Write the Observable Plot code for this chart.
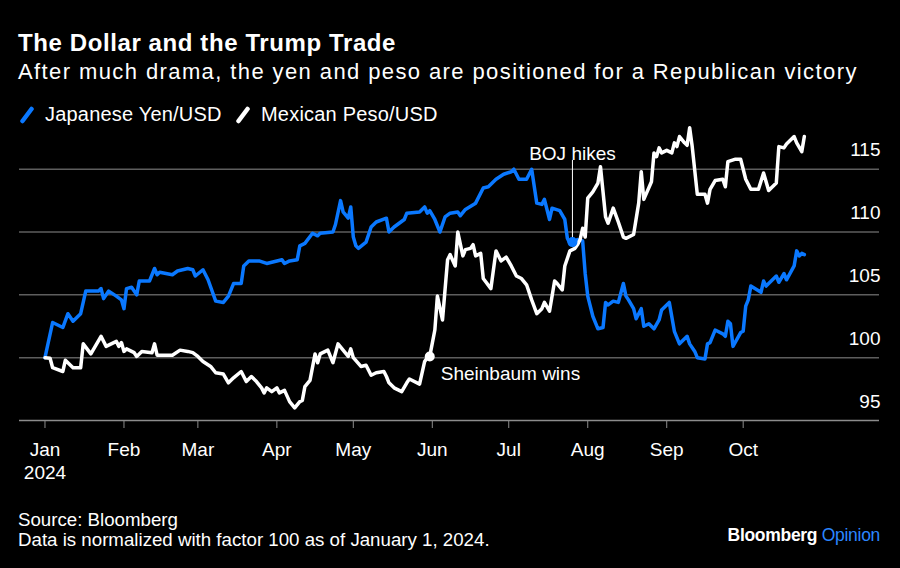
<!DOCTYPE html>
<html><head><meta charset="utf-8">
<script src="https://cdn.jsdelivr.net/npm/d3@7"></script>
<script src="https://cdn.jsdelivr.net/npm/@observablehq/plot@0.6"></script>
<style>
html,body{margin:0;padding:0;background:#000;}
#wrap{position:relative;width:900px;height:568px;background:#000;overflow:hidden;font-family:"Liberation Sans",Arial,sans-serif;color:#fff;}
.abs{position:absolute;white-space:nowrap;line-height:1;}
#title{left:18px;top:31px;font-size:24px;font-weight:bold;letter-spacing:0.6px;}
#subtitle{left:18px;top:61px;font-size:22px;letter-spacing:1.4px;}
.leg{top:104px;font-size:20px;letter-spacing:0.2px;}
.mk{position:absolute;top:106px;}
#src1{left:18px;top:511px;font-size:18.7px;}
#src2{left:18px;top:531px;font-size:18.7px;}
#logo{right:20px;top:527px;font-size:17.5px;font-weight:bold;letter-spacing:-0.3px;}
#chart{position:absolute;left:0;top:118px;}
</style>
</head><body>
<div id="wrap">
  <div id="title" class="abs">The Dollar and the Trump Trade</div>
  <div id="subtitle" class="abs">After much drama, the yen and peso are positioned for a Republican victory</div>
  <svg class="mk" style="left:19px" width="16" height="18"><line x1="3.5" y1="15" x2="12.5" y2="3" stroke="#0a78ff" stroke-width="4.5" stroke-linecap="round"/></svg>
  <div class="abs leg" style="left:45px">Japanese Yen/USD</div>
  <svg class="mk" style="left:235px" width="16" height="18"><line x1="3.5" y1="15" x2="12.5" y2="3" stroke="#ffffff" stroke-width="4.5" stroke-linecap="round"/></svg>
  <div class="abs leg" style="left:261px">Mexican Peso/USD</div>
  <div id="chart"></div>
  <div id="src1" class="abs">Source: Bloomberg</div>
  <div id="src2" class="abs">Data is normalized with factor 100 as of January 1, 2024.</div>
  <div id="logo" class="abs">Bloomberg <span style="color:#2b86ff;font-weight:normal">Opinion</span></div>
</div>
<script>
const BLUE = "#0a78ff";

const yenDates = ["2024-01-01","2024-01-04","2024-01-08","2024-01-10","2024-01-12","2024-01-15","2024-01-17","2024-01-22","2024-01-23","2024-01-24","2024-01-26","2024-01-29","2024-01-31","2024-02-01","2024-02-02","2024-02-04","2024-02-06","2024-02-07","2024-02-11","2024-02-13","2024-02-14","2024-02-15","2024-02-20","2024-02-22","2024-02-26","2024-02-28","2024-02-29","2024-03-03","2024-03-05","2024-03-08","2024-03-11","2024-03-13","2024-03-15","2024-03-18","2024-03-19","2024-03-21","2024-03-25","2024-03-28","2024-04-01","2024-04-03","2024-04-04","2024-04-06","2024-04-09","2024-04-10","2024-04-12","2024-04-15","2024-04-17","2024-04-18","2024-04-23","2024-04-24","2024-04-26","2024-04-27","2024-04-29","2024-04-30","2024-05-01","2024-05-02","2024-05-03","2024-05-06","2024-05-08","2024-05-10","2024-05-14","2024-05-15","2024-05-17","2024-05-21","2024-05-22","2024-05-27","2024-05-29","2024-05-30","2024-05-31","2024-06-02","2024-06-04","2024-06-06","2024-06-08","2024-06-11","2024-06-12","2024-06-14","2024-06-18","2024-06-21","2024-06-23","2024-06-26","2024-06-29","2024-07-02","2024-07-03","2024-07-05","2024-07-08","2024-07-10","2024-07-12","2024-07-14","2024-07-15","2024-07-17","2024-07-18","2024-07-21","2024-07-23","2024-07-24","2024-07-25","2024-07-27","2024-07-28","2024-07-30","2024-07-31","2024-08-01","2024-08-03","2024-08-05","2024-08-07","2024-08-08","2024-08-09","2024-08-11","2024-08-13","2024-08-15","2024-08-16","2024-08-17","2024-08-19","2024-08-20","2024-08-22","2024-08-23","2024-08-25","2024-08-27","2024-08-29","2024-08-30","2024-09-02","2024-09-04","2024-09-06","2024-09-09","2024-09-10","2024-09-12","2024-09-13","2024-09-16","2024-09-17","2024-09-18","2024-09-20","2024-09-23","2024-09-24","2024-09-25","2024-09-26","2024-09-27","2024-09-30","2024-10-01","2024-10-02","2024-10-03","2024-10-04","2024-10-08","2024-10-09","2024-10-10","2024-10-14","2024-10-15","2024-10-17","2024-10-18","2024-10-21","2024-10-22","2024-10-23","2024-10-24","2024-10-25"];
const yenValues = [100,102.8,102.4,103.5,102.9,103.5,105.3,105.3,105.5,104.7,105.3,104.9,104.6,103.9,105.5,105.6,105.0,106.1,106.1,107.1,106.6,106.8,106.6,106.9,107.1,107.0,106.5,107.0,106.2,104.5,104.4,104.9,105.9,105.9,107.3,107.7,107.7,107.5,107.7,107.8,107.5,107.7,107.8,108.9,109.1,109.9,109.7,109.9,110.0,110.6,112.5,111.6,111.1,112.0,109.6,108.9,108.7,109.2,110.4,110.8,111.1,110.0,110.4,111.0,111.5,111.6,112.0,111.5,111.7,111.0,110.0,111.2,111.5,111.6,111.3,111.8,112.3,113.5,113.6,114.2,114.6,114.8,115.0,114.2,114.2,115.0,112.3,112.2,112.6,111.0,111.9,111.7,111.0,109.5,109.1,109.0,109.4,109.3,106.7,104.9,103.3,102.3,102.4,104.4,104.2,104.5,104.4,105.9,104.9,104.6,103.9,103.1,103.9,102.5,102.7,102.3,103.0,103.8,104.4,102.1,101.1,101.7,101.1,100.5,100.0,99.9,101.1,101.2,102.2,101.9,101.7,102.9,102.7,100.9,102.0,102.1,104.1,104.6,105.7,105.2,106.1,105.7,106.5,106.0,106.7,106.2,107.3,108.5,108.1,108.3,108.2];

const pesoDates = ["2024-01-01","2024-01-03","2024-01-04","2024-01-08","2024-01-09","2024-01-12","2024-01-15","2024-01-16","2024-01-19","2024-01-23","2024-01-25","2024-01-29","2024-01-30","2024-01-31","2024-02-01","2024-02-02","2024-02-05","2024-02-06","2024-02-08","2024-02-12","2024-02-13","2024-02-14","2024-02-20","2024-02-23","2024-02-26","2024-02-28","2024-03-01","2024-03-03","2024-03-06","2024-03-08","2024-03-11","2024-03-13","2024-03-15","2024-03-18","2024-03-20","2024-03-22","2024-03-24","2024-03-26","2024-03-27","2024-03-28","2024-03-30","2024-04-01","2024-04-02","2024-04-04","2024-04-06","2024-04-08","2024-04-10","2024-04-11","2024-04-12","2024-04-14","2024-04-16","2024-04-17","2024-04-18","2024-04-21","2024-04-23","2024-04-25","2024-04-27","2024-04-29","2024-04-30","2024-05-01","2024-05-04","2024-05-06","2024-05-08","2024-05-10","2024-05-13","2024-05-14","2024-05-15","2024-05-17","2024-05-20","2024-05-22","2024-05-23","2024-05-27","2024-05-29","2024-05-30","2024-05-31","2024-06-02","2024-06-03","2024-06-05","2024-06-07","2024-06-08","2024-06-10","2024-06-11","2024-06-13","2024-06-14","2024-06-16","2024-06-17","2024-06-18","2024-06-20","2024-06-21","2024-06-24","2024-06-26","2024-06-28","2024-06-30","2024-07-02","2024-07-04","2024-07-06","2024-07-08","2024-07-10","2024-07-12","2024-07-14","2024-07-15","2024-07-17","2024-07-19","2024-07-20","2024-07-22","2024-07-23","2024-07-25","2024-07-27","2024-07-28","2024-07-29","2024-07-30","2024-07-31","2024-08-01","2024-08-03","2024-08-05","2024-08-06","2024-08-08","2024-08-09","2024-08-11","2024-08-13","2024-08-15","2024-08-16","2024-08-19","2024-08-21","2024-08-22","2024-08-23","2024-08-26","2024-08-27","2024-08-28","2024-08-29","2024-08-30","2024-09-01","2024-09-03","2024-09-04","2024-09-05","2024-09-06","2024-09-08","2024-09-09","2024-09-10","2024-09-11","2024-09-13","2024-09-16","2024-09-17","2024-09-18","2024-09-20","2024-09-23","2024-09-24","2024-09-25","2024-09-28","2024-09-30","2024-10-02","2024-10-04","2024-10-07","2024-10-09","2024-10-11","2024-10-14","2024-10-15","2024-10-17","2024-10-18","2024-10-21","2024-10-22","2024-10-24","2024-10-25"];
const pesoValues = [100,99.95,99.2,98.9,99.8,99.2,99.2,101.1,100.3,101.7,100.9,101.3,100.9,101.2,100.5,100.7,100.4,100.1,100.5,100.4,101.1,100.2,100.2,100.6,100.5,100.4,100.1,99.7,99.3,98.8,98.7,98.0,98.4,98.9,98.1,98.5,98.1,97.6,97.2,97.6,97.3,97.6,97.2,97.4,96.5,96.0,96.5,96.6,97.7,98.2,100.3,99.6,100.3,100.6,99.6,101.1,100.6,100.1,100.7,100.0,99.3,99.4,98.6,98.8,98.9,98.5,98.0,97.6,97.3,98.0,98.3,97.9,99.7,100.0,100.1,102.2,104.9,103.0,107.8,108.2,107.3,110.0,108.1,108.6,108.7,109.0,108.1,108.3,106.3,105.5,108.5,107.7,108.0,107.3,106.5,106.3,105.8,104.6,103.5,103.9,104.4,103.7,106.1,105.9,105.4,107.3,108.5,108.7,109.0,109.4,110.3,109.6,112.7,113.2,113.9,115.2,111.2,110.7,111.9,110.8,109.6,109.5,109.8,112.3,114.8,112.6,114.0,116.3,116.0,116.7,116.3,116.5,116.3,117.1,116.8,117.6,117.1,116.9,118.3,116.8,113.0,113.0,112.3,113.4,114.1,114.2,113.6,115.6,115.8,115.8,114.2,113.4,113.4,114.7,113.3,113.9,116.8,116.7,117.0,117.6,117.1,116.4,117.6];

const monthLabels = ["Jan","Feb","Mar","Apr","May","Jun","Jul","Aug","Sep","Oct"];
const yearLabel = "2024";
const yTicks = [95,100,105,110,115];
const gridValues = [100,105,110,115];

const annotations = [
  {label: "BOJ hikes", date: "2024-07-26", value: 109.2, top: 115.7},
  {label: "Sheinbaum wins", date: "2024-05-31", value: 100.1}
];

const parse = d3.utcParse("%Y-%m-%d");
const yen = yenDates.map((d, i) => ({date: parse(d), value: yenValues[i]}));
const peso = pesoDates.map((d, i) => ({date: parse(d), value: pesoValues[i]}));
const monthTicks = monthLabels.map((m, i) => new Date(Date.UTC(2024, i, 1)));
const boj = [{...annotations[0], date: parse(annotations[0].date)}];
const shein = [{...annotations[1], date: parse(annotations[1].date)}];

const chart = Plot.plot({
  width: 900,
  height: 370,
  marginTop: 7,
  marginBottom: 68,
  marginLeft: 19,
  marginRight: 21,
  style: {background: "transparent", color: "white", fontFamily: "'Liberation Sans', Arial, sans-serif", fontSize: "19px"},
  x: {type: "utc", domain: [new Date(Date.UTC(2023, 11, 22)), new Date(Date.UTC(2024, 10, 23, 12))]},
  y: {domain: [95, 118.48], axis: null},
  marks: [
    Plot.ruleY(gridValues, {stroke: "#5e5e5e", strokeWidth: 1.5}),
    Plot.ruleY([95], {stroke: "#8c8c8c", strokeWidth: 1.5}),
    Plot.axisX({ticks: monthTicks, tickFormat: d => monthLabels[d.getUTCMonth()], tickSize: 8, tickPadding: 14, stroke: "#8c8c8c", fill: "white", label: null, fontSize: 19}),
    Plot.text([yearLabel], {x: () => monthTicks[0], y: () => 95, text: d => d, lineAnchor: "top", dy: 45, fill: "white", fontSize: 19}),
    Plot.text(yTicks, {y: d => d, text: d => String(d), frameAnchor: "right", textAnchor: "end", dx: 1, dy: -19, fill: "white", fontSize: 19}),
    Plot.lineY(yen, {x: "date", y: "value", stroke: BLUE, strokeWidth: 3.5}),
    Plot.lineY(peso, {x: "date", y: "value", stroke: "white", strokeWidth: 3.5}),
    Plot.ruleX(boj, {x: "date", y1: "value", y2: "top", stroke: "white", strokeWidth: 1}),
    Plot.dot(boj, {x: "date", y: "value", r: 5, fill: BLUE}),
    Plot.text(boj, {x: "date", y: "top", text: "label", lineAnchor: "bottom", dy: 0, fill: "white", fontSize: 19}),
    Plot.dot(shein, {x: "date", y: "value", r: 5, fill: "white"}),
    Plot.text(shein, {x: "date", y: "value", text: "label", textAnchor: "start", dx: 11, dy: 17, fill: "white", fontSize: 19})
  ]
});
document.getElementById("chart").appendChild(chart);
</script>
</body></html>
